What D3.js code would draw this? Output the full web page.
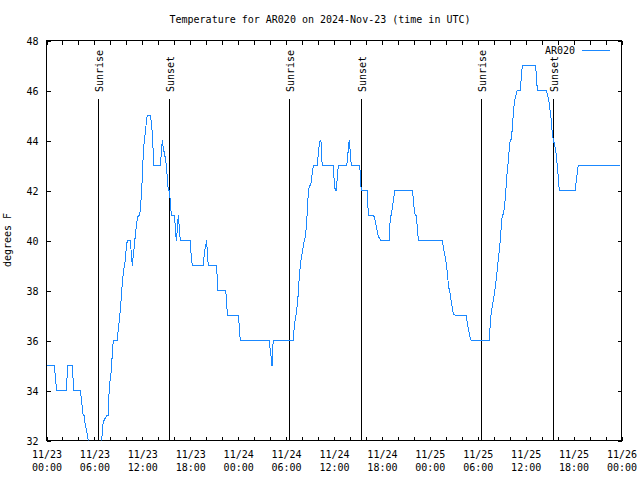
<!DOCTYPE html>
<html><head><meta charset="utf-8">
<script src="https://cdn.jsdelivr.net/npm/d3@7"></script>
<style>
body{margin:0;background:#fff}
svg{display:block}
text{font-family:"DejaVu Sans Mono","Liberation Mono",monospace;font-size:10px;fill:#000}
</style>
</head><body>
<svg id="chart" width="640" height="480"></svg>
<script>
// ---------------- data ----------------
const titleText = "Temperature for AR020 on 2024-Nov-23 (time in UTC)";
const yAxisLabel = "degrees F";
const seriesName = "AR020";
const startTime = "2024-11-23T00:00:00Z";
const endTime = "2024-11-26T00:00:00Z";
const yDomain = [32, 48];
const yTickValues = [32, 34, 36, 38, 40, 42, 44, 46, 48];
// hours since 2024-11-23 00:00 UTC
const hoursSinceStart = [
0.10,0.98,1.10,1.19,1.23,2.48,2.57,2.60,3.23,3.32,
3.36,4.23,4.41,4.48,4.61,4.78,4.82,5.03,5.23,5.45,
5.82,6.32,6.70,6.91,7.04,7.20,7.54,7.74,7.79,7.86,
7.99,8.11,8.24,8.36,8.87,8.99,9.12,9.24,9.37,9.49,
9.62,9.74,9.87,9.99,10.12,10.49,10.62,10.74,10.87,10.99,
11.12,11.24,11.37,11.50,11.62,11.75,11.87,12.00,12.12,12.25,
12.37,12.50,12.62,13.00,13.12,13.25,13.37,13.42,14.25,14.38,
14.50,14.63,14.75,14.88,15.00,15.13,15.25,15.38,15.50,15.63,
16.00,16.13,16.25,16.38,16.50,16.63,16.75,18.01,18.13,18.26,
19.63,19.76,19.94,20.06,20.14,20.26,21.26,21.39,21.44,22.44,
22.56,22.64,24.02,24.14,24.19,24.27,27.90,28.02,28.15,28.24,
28.27,28.40,30.90,30.99,31.12,31.24,31.37,31.49,31.58,31.70,
31.83,31.96,32.08,32.21,32.33,32.46,32.58,32.71,32.83,32.96,
33.08,33.21,33.33,33.46,33.91,34.04,34.16,34.29,34.37,34.41,
34.54,35.91,36.04,36.16,36.29,36.41,36.54,37.59,37.67,37.75,
37.84,37.92,38.04,38.17,39.17,39.29,39.34,39.42,40.17,40.30,
40.97,41.10,41.22,41.35,41.47,41.60,41.89,42.93,43.05,43.18,
43.30,43.48,43.60,45.81,45.93,46.06,46.18,46.31,46.43,46.56,
49.56,49.69,49.81,49.94,50.06,50.19,50.31,50.44,50.56,50.69,
50.81,50.94,51.19,52.57,52.69,52.82,52.94,53.07,53.19,55.45,
55.57,55.70,55.82,55.95,56.07,56.20,56.32,56.45,56.58,56.70,
56.83,56.95,57.08,57.20,57.33,57.45,57.58,57.70,57.83,57.95,
58.08,58.20,58.33,58.45,58.58,58.70,58.83,58.95,59.33,59.45,
59.58,61.21,61.33,61.46,62.58,62.71,62.84,62.96,63.09,63.21,
63.34,63.46,63.59,63.71,63.84,63.96,64.09,64.21,66.22,66.34,
66.47,66.59,71.82];
const temperatureF = [
35,35,34.6,34.25,34,34,34.5,35,35,34.5,
34,34,33.6,33.25,33,33,32.7,32.4,32,31.6,
31.2,31,31.3,32,32.6,32.8,33,33,33.47,34.16,
34.49,34.8,35.47,36,36,36.47,36.8,37.24,37.71,38.3,
38.72,38.97,39.24,39.73,40,40,39.5,39,39.4,39.77,
40.2,40.53,40.87,41,41,41.2,41.8,42.5,43.53,44,
44.3,44.73,45,45,44.73,44.3,43.5,43,43,43.5,
44,43.7,43.5,43.3,43,42.5,42,42,41.6,41,
41,40.6,40,40.4,41,40.5,40,40,39.3,39,
39,39.5,39.8,40,39.5,39,39,38.5,38,38,
37.6,37,37,36.6,36.3,36,36,35.6,35.3,35,
35.5,36,36,36.4,36.8,37,37.33,37.73,38.2,38.7,
39.13,39.4,39.6,39.9,40.03,40.27,40.73,41.53,42.03,42.2,
42.2,42.5,42.83,43,43,43.5,43.87,44,44,43.5,
43,43,42.3,42,42,42.5,43,43,43.2,43.5,
43.87,44,43.5,43,43,42.76,42.33,42,42,41,
41,40.87,40.67,40.47,40.27,40.13,40,40,41,41,
41.3,41.67,42,42,41.67,41.2,41,41,40.53,40,
40,39.73,39.53,39.33,39.07,38.73,38.27,38,37.87,37.53,
37.33,37.07,37,37,36.69,36.47,36.27,36.07,36,36,
36.73,37.13,37.36,37.6,37.87,38.13,38.47,38.87,39.27,39.6,
40.03,40.6,41.04,41.04,41.3,41.7,42.3,42.8,43.2,43.7,
44.03,44.03,44.51,45.07,45.53,45.73,45.87,46,46,46.53,
47,47,46.67,46,46,45.87,45.67,45.47,45.13,44.8,
44.27,44.03,43.87,43.67,43.4,43,42.53,42,42,42.4,
42.73,43,43];
const sunLabels = ["Sunrise","Sunset","Sunrise","Sunset","Sunrise","Sunset"];
const sunTimes = ["2024-11-23T06:31:00Z","2024-11-23T15:24:00Z","2024-11-24T06:26:00Z",
                  "2024-11-24T15:26:00Z","2024-11-25T06:28:00Z","2024-11-25T15:29:00Z"];

// ---------------- chart ----------------
const svg = d3.select("#chart");
const L = 46.5, R = 621.5, T = 40.5, B = 440.5;
const t0 = new Date(startTime), t1 = new Date(endTime);
const x = d3.scaleUtc().domain([t0, t1]).range([L, R]);
const y = d3.scaleLinear().domain(yDomain).range([B, T]);
const lineColor = "#1a88ff";

const data = hoursSinceStart.map((h, i) => ({t: new Date(+t0 + h * 3600e3), v: temperatureF[i]}));

// title
svg.append("text").attr("x", 320).attr("y", 23).attr("text-anchor", "middle").text(titleText);

// y label
svg.append("text").attr("transform", "translate(11,240) rotate(-90)")
  .attr("text-anchor", "middle").text(yAxisLabel);

// clip
svg.append("clipPath").attr("id", "plotclip").append("rect")
  .attr("x", L).attr("y", T).attr("width", R - L).attr("height", B - T);

// axes
const twoHours = d3.utcHour.every(2).range(t0, new Date(+t1 + 1));
const sixHours = d3.utcHour.every(6).range(t0, new Date(+t1 + 1));

const gB = svg.append("g").attr("transform", `translate(0,${B})`)
  .call(d3.axisBottom(x).tickValues(twoHours).tickSize(-4).tickFormat(""));
const gT = svg.append("g").attr("transform", `translate(0,${T})`)
  .call(d3.axisTop(x).tickValues(twoHours).tickSize(-4).tickFormat(""));
const gL = svg.append("g").attr("transform", `translate(${L},0)`)
  .call(d3.axisLeft(y).tickValues(yTickValues).tickSize(-4).tickPadding(8).tickFormat(d3.format("d")));
const gR = svg.append("g").attr("transform", `translate(${R},0)`)
  .call(d3.axisRight(y).tickValues(yTickValues).tickSize(-4).tickFormat(""));
[gB, gT, gL, gR].forEach(g => {
  g.select(".domain").remove();
  g.selectAll("line").attr("stroke", "#000").attr("shape-rendering", "crispEdges");
});
gL.selectAll("text").attr("dy", "0.35em");

const fmtDate = d3.utcFormat("%m/%d"), fmtTime = d3.utcFormat("%H:%M");
const gX = svg.append("g").attr("transform", `translate(0,${B})`)
  .call(d3.axisBottom(x).tickValues(sixHours).tickSize(0).tickFormat(""));
gX.select(".domain").remove();
gX.selectAll(".tick text").each(function(d) {
  const t = d3.select(this).attr("y", 17).attr("dy", null);
  t.append("tspan").attr("x", 0).text(fmtDate(d));
  t.append("tspan").attr("x", 0).attr("dy", 13).text(fmtTime(d));
});

// border
svg.append("rect").attr("x", L).attr("y", T).attr("width", R - L).attr("height", B - T)
  .attr("fill", "none").attr("stroke", "#000").attr("shape-rendering", "crispEdges");

// sunrise / sunset lines
sunTimes.forEach((s, i) => {
  const xs = Math.floor(x(new Date(s))) + 0.5;
  svg.append("line").attr("x1", xs).attr("x2", xs).attr("y1", 99).attr("y2", B)
    .attr("stroke", "#000").attr("shape-rendering", "crispEdges");
  svg.append("text").attr("transform", `translate(${xs + 4},92) rotate(-90)`)
    .attr("text-anchor", "start").text(sunLabels[i]);
});

// data line
svg.append("path").datum(data)
  .attr("clip-path", "url(#plotclip)")
  .attr("fill", "none").attr("stroke", lineColor).attr("stroke-width", 1)
  .attr("shape-rendering", "crispEdges")
  .attr("d", d3.line().x(d => x(d.t)).y(d => y(d.v)));

// legend
svg.append("text").attr("x", 575).attr("y", 54).attr("text-anchor", "end").text(seriesName);
svg.append("line").attr("x1", 582).attr("x2", 610).attr("y1", 50.5).attr("y2", 50.5)
  .attr("stroke", lineColor).attr("shape-rendering", "crispEdges");
</script>
</body></html>
